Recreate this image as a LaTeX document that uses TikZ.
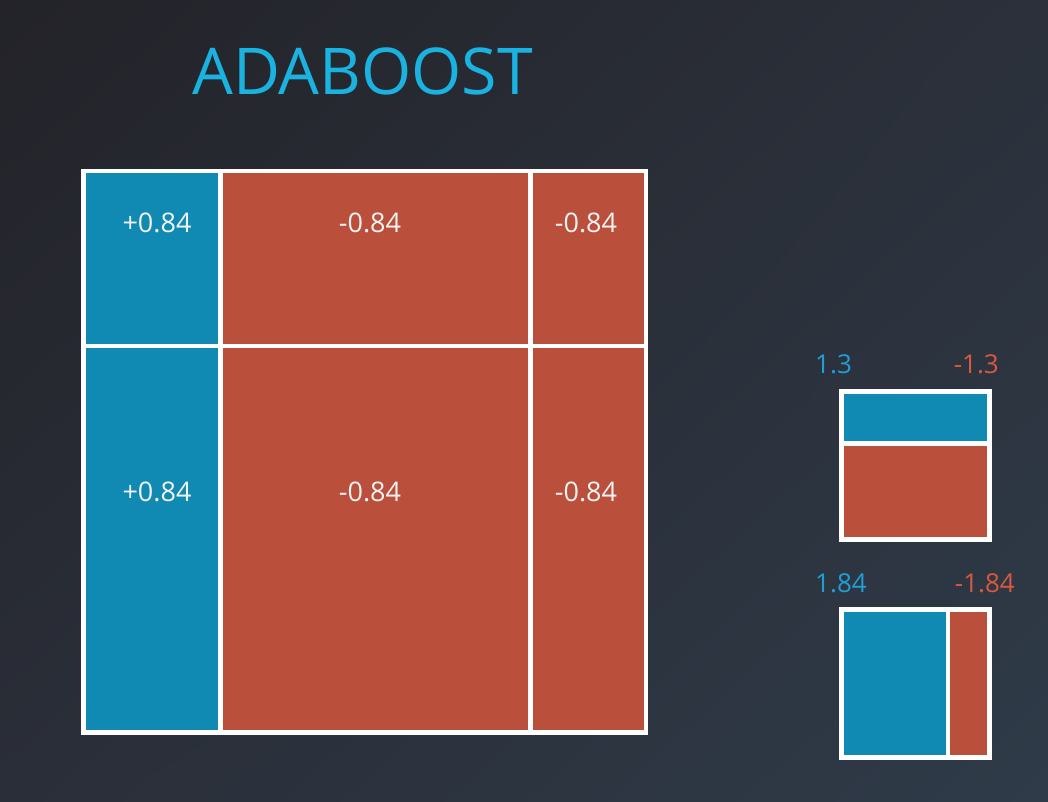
\documentclass[tikz,border=0pt]{standalone}
\usepackage{fontspec}
\setmainfont{Open Sans}
\usetikzlibrary{shadings}
\definecolor{bgUL}{HTML}{232329}
\definecolor{bgUR}{HTML}{2B303A}
\definecolor{bgLL}{HTML}{2A2E38}
\definecolor{bgLR}{HTML}{2F3B49}
\definecolor{cblue}{HTML}{108AB3}
\definecolor{cred}{HTML}{BA503B}
\definecolor{tblue}{HTML}{1AB2E0}
\definecolor{lblue}{HTML}{1EA0D6}
\definecolor{lred}{HTML}{D9583F}
\definecolor{ctext}{HTML}{F2F2F2}
\newcommand{\boxnode}[6]{%
  \node[cellbox, fill=#6, minimum width={(#4-#2)*1pt}, minimum height={(#5-#3)*1pt}] (#1) at (#2,#3) {};}
\begin{document}
\begin{tikzpicture}[x=1pt,y=-1pt,
  cellbox/.style={draw=none, inner sep=0pt, outer sep=0pt, anchor=north west, rectangle},
  celltext/.style={text=ctext, font=\fontsize{27}{30}\selectfont, inner sep=0pt, anchor=base},
  sumtext/.style={font=\fontsize{26}{30}\selectfont, inner sep=0pt}]
\useasboundingbox (0,0) rectangle (1048,802);
\shade[upper left=bgUL, upper right=bgUR, lower left=bgLL, lower right=bgLR] (0,0) rectangle (1048,802);
% title
\node[text=tblue, font=\fontsize{64.5}{70}\selectfont, inner sep=0pt, anchor=base west] (title) at (192,95) {ADABOOST};
% big grid
\boxnode{frame}{81}{169}{648}{735}{white}
\boxnode{tl}{86}{173}{218}{343.5}{cblue}
\boxnode{tm}{222.5}{173}{528}{343.5}{cred}
\boxnode{tr}{532.5}{173}{643.5}{343.5}{cred}
\boxnode{bl}{86}{348}{218}{730}{cblue}
\boxnode{bm}{222.5}{348}{528}{730}{cred}
\boxnode{br}{532.5}{348}{643.5}{730}{cred}
\node[celltext] (ttl) at (157,232.5) {+0.84};
\node[celltext] (ttm) at (370,232.5) {-0.84};
\node[celltext] (ttr) at (586,232.5) {-0.84};
\node[celltext] (tbl) at (157,501) {+0.84};
\node[celltext] (tbm) at (370,501) {-0.84};
\node[celltext] (tbr) at (586,501) {-0.84};
% small box 1
\boxnode{fa}{838.5}{388.5}{991.5}{541.5}{white}
\boxnode{fab}{843.5}{393.5}{986.5}{441}{cblue}
\boxnode{far}{843.5}{446}{986.5}{536.5}{cred}
\node[sumtext, text=lblue, anchor=base west] (la1) at (815,373) {1.3};
\node[sumtext, text=lred, anchor=base east] (la2) at (999,373) {-1.3};
% small box 2
\boxnode{fb}{838.5}{606.5}{991.5}{760}{white}
\boxnode{fbb}{843.5}{611.5}{945.5}{755}{cblue}
\boxnode{fbr}{950}{611.5}{986.5}{755}{cred}
\node[sumtext, text=lblue, anchor=base west] (lb1) at (815,592) {1.84};
\node[sumtext, text=lred, anchor=base east] (lb2) at (1015,592) {-1.84};
\end{tikzpicture}
\end{document}
